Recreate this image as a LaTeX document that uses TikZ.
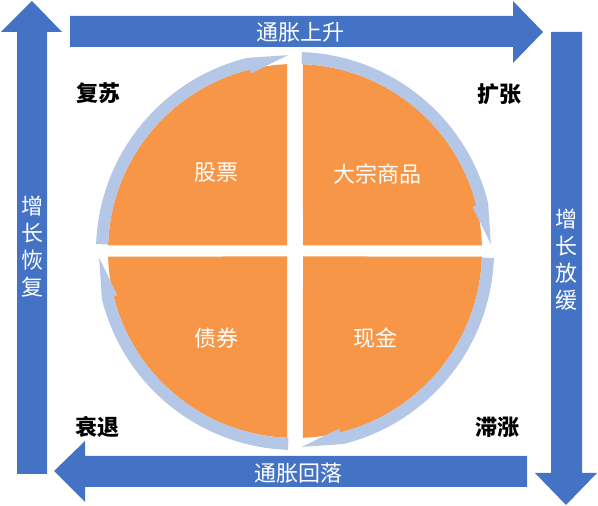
\documentclass[tikz,border=0pt]{standalone}
\usepackage{fontspec}
\usepackage{tikz}
\newfontfamily\cjk{Noto Sans CJK SC}

\definecolor{cycleblue}{HTML}{4472C4}
\definecolor{assetorange}{HTML}{F79646}
\definecolor{ringblue}{HTML}{B4C7E7}

\begin{document}
\begin{tikzpicture}[
    x = 1pt, y = 1pt,
    trend/.style = {fill = cycleblue},
    sector/.style = {fill = assetorange},
    ring/.style = {fill = ringblue},
    asset/.style = {text = white,
      font = \cjk\fontsize{22}{26}\selectfont},
    phase/.style = {text = black,
      font = \cjk\bfseries\fontsize{22}{26}\selectfont},
    axislabel/.style = {text = white, align = center,
      font = \cjk\fontsize{22}{27}\selectfont}
    ]

    \useasboundingbox (0, 0) rectangle (598, 506);
    \coordinate (C) at (295, 255);

    % the four block arrows round the edge
    \fill [trend] (70, 459) -- (513, 459) -- (513, 443) -- (543, 474)
      -- (513, 505) -- (513, 490) -- (70, 490) -- cycle;
    \fill [trend] (582, 474) -- (582, 33) -- (597, 33) -- (566, 1)
      -- (535, 33) -- (551, 33) -- (551, 474) -- cycle;
    \fill [trend] (527, 50) -- (85, 50) -- (85, 65) -- (54, 35)
      -- (85, 4) -- (85, 19) -- (527, 19) -- cycle;
    \fill [trend] (17, 32) -- (17, 474) -- (1, 474) -- (32, 505)
      -- (62, 474) -- (47, 474) -- (47, 32) -- cycle;

    % quarters
    \fill [sector] (287, 260.5) -- ([shift = {(C)}]92.45:187)
      arc [start angle = 92.45, end angle = 178.31, radius = 187] -- cycle;
    \fill [sector] (303, 260.5) -- ([shift = {(C)}]1.69:187)
      arc [start angle = 1.69, end angle = 87.55, radius = 187] -- cycle;
    \fill [sector] (303, 249.5) -- ([shift = {(C)}]-87.55:187)
      arc [start angle = -87.55, end angle = -1.69, radius = 187] -- cycle;
    \fill [sector] (287, 249.5) -- ([shift = {(C)}]181.69:187)
      arc [start angle = 181.69, end angle = 267.55, radius = 187] -- cycle;

    % clockwise ring arrows
    \fill [ring] ([shift = {(C)}]178:199)
      arc [start angle = 178, end angle = 104, radius = 199]
      -- ([shift = {(C)}]92:196) -- ([shift = {(C)}]104:183)
      -- ([shift = {(C)}]104:187)
      arc [start angle = 104, end angle = 178, radius = 187] -- cycle;
    \fill [ring] ([shift = {(C)}]88:199)
      arc [start angle = 88, end angle = 14, radius = 199]
      -- ([shift = {(C)}]2:196) -- ([shift = {(C)}]14:183)
      -- ([shift = {(C)}]14:187)
      arc [start angle = 14, end angle = 88, radius = 187] -- cycle;
    \fill [ring] ([shift = {(C)}]-2:199)
      arc [start angle = -2, end angle = -76, radius = 199]
      -- ([shift = {(C)}]-88:196) -- ([shift = {(C)}]-76:183)
      -- ([shift = {(C)}]-76:187)
      arc [start angle = -76, end angle = -2, radius = 187] -- cycle;
    \fill [ring] ([shift = {(C)}]268:199)
      arc [start angle = 268, end angle = 194, radius = 199]
      -- ([shift = {(C)}]182:196) -- ([shift = {(C)}]194:183)
      -- ([shift = {(C)}]194:187)
      arc [start angle = 194, end angle = 268, radius = 187] -- cycle;

    \node at (300, 474) [asset, name = rising] {通胀上升};
    \node at (298, 33) [asset, name = falling] {通胀回落};
    \node at (32, 259) [axislabel, name = recover] {增\\长\\恢\\复};
    \node at (566, 246) [axislabel, name = slow] {增\\长\\放\\缓};

    \node at (216, 333) [asset, name = stocks] {股票};
    \node at (377, 332) [asset, name = goods] {大宗商品};
    \node at (216, 168) [asset, name = bonds] {债券};
    \node at (375, 168) [asset, name = cash] {现金};

    \node at (98, 413) [phase, name = recovery] {复苏};
    \node at (499, 412) [phase, name = boom] {扩张};
    \node at (97, 79) [phase, name = recession] {衰退};
    \node at (497, 79) [phase, name = stagflation] {滞涨};
  \end{tikzpicture}
\end{document}
